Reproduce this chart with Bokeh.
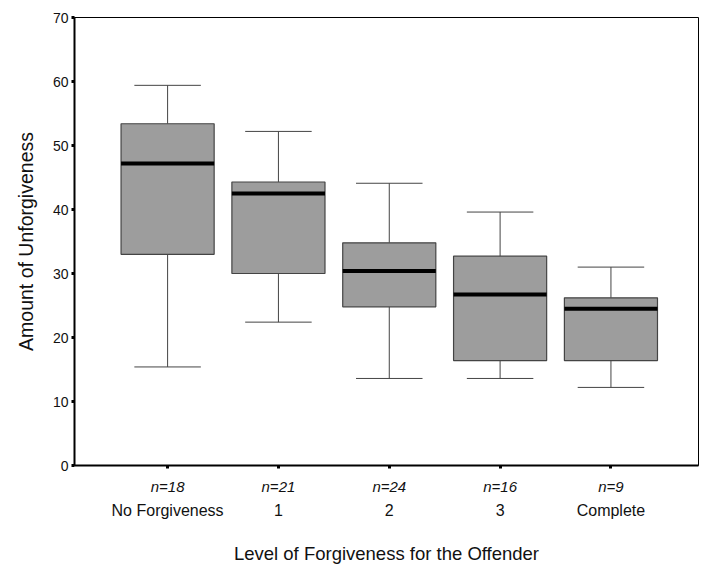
from bokeh.plotting import figure
from bokeh.models import Range1d, FixedTicker, LinearAxis
from bokeh.embed import file_html
from bokeh.resources import INLINE

# ---- data ----
categories = ["No Forgiveness", "1", "2", "3", "Complete"]
n_values = [18, 21, 24, 16, 9]
whisker_low = [15.4, 22.4, 13.6, 13.6, 12.2]
q1 = [33.0, 30.0, 24.8, 16.4, 16.4]
median = [47.2, 42.5, 30.4, 26.7, 24.5]
q3 = [53.4, 44.3, 34.8, 32.7, 26.2]
whisker_high = [59.4, 52.2, 44.1, 39.6, 31.0]
y_ticks = [0, 10, 20, 30, 40, 50, 60, 70]

xs = list(range(1, len(categories) + 1))
box_w = 0.84
cap_w = 0.6

FONT = "Liberation Sans"

p = figure(width=700, height=566, output_backend="svg", toolbar_location=None,
           x_range=Range1d(0.16, 5.79), y_range=Range1d(0, 70),
           min_border_left=74, min_border_right=2, min_border_top=17,
           min_border_bottom=99)
p.background_fill_color = "white"
p.border_fill_color = "white"
p.outline_line_color = "black"
p.outline_line_width = 1
p.xgrid.visible = False
p.ygrid.visible = False

# whiskers
p.segment(x0=xs, y0=whisker_low, x1=xs, y1=q1, line_color="#444444", line_width=1)
p.segment(x0=xs, y0=q3, x1=xs, y1=whisker_high, line_color="#444444", line_width=1)
# caps
p.segment(x0=[x - cap_w / 2 for x in xs], y0=whisker_low,
          x1=[x + cap_w / 2 for x in xs], y1=whisker_low, line_color="#444444", line_width=1)
p.segment(x0=[x - cap_w / 2 for x in xs], y0=whisker_high,
          x1=[x + cap_w / 2 for x in xs], y1=whisker_high, line_color="#444444", line_width=1)
# boxes
p.vbar(x=xs, width=box_w, bottom=q1, top=q3, fill_color="#9d9d9d",
       line_color="#444444", line_width=1.2)
# medians
p.segment(x0=[x - box_w / 2 for x in xs], y0=median,
          x1=[x + box_w / 2 for x in xs], y1=median, line_color="black", line_width=4)

# y axis
ya = p.yaxis[0]
ya.ticker = FixedTicker(ticks=y_ticks)
ya.minor_tick_line_color = None
ya.major_tick_in = 0
ya.major_tick_out = 3
ya.major_tick_line_width = 3
ya.axis_line_width = 2
ya.axis_line_color = "black"
ya.major_label_standoff = 3
ya.major_label_text_font = FONT
ya.major_label_text_font_size = "14px"
ya.major_label_text_color = "#111111"
ya.axis_label = "Amount of Unforgiveness"
ya.axis_label_text_font = FONT
ya.axis_label_text_font_size = "19.5px"
ya.axis_label_text_font_style = "normal"
ya.axis_label_text_color = "#111111"
ya.axis_label_standoff = 13

# x axis 1: n counts
xa = p.xaxis[0]
xa.ticker = FixedTicker(ticks=xs)
xa.major_label_overrides = {x: f"n={n}" for x, n in zip(xs, n_values)}
xa.minor_tick_line_color = None
xa.major_tick_in = 0
xa.major_tick_out = 3
xa.major_tick_line_width = 3
xa.axis_line_width = 2
xa.axis_line_color = "black"
xa.major_label_standoff = 9
xa.major_label_text_font = FONT
xa.major_label_text_font_size = "15px"
xa.major_label_text_font_style = "italic"
xa.major_label_text_color = "#111111"

# x axis 2: category names + title
xa2 = LinearAxis(ticker=FixedTicker(ticks=xs),
                 major_label_overrides={x: c for x, c in zip(xs, categories)})
xa2.axis_line_color = None
xa2.major_tick_line_color = None
xa2.minor_tick_line_color = None
xa2.major_tick_out = 0
xa2.major_tick_in = 0
xa2.major_label_standoff = 4
xa2.major_label_text_font = FONT
xa2.major_label_text_font_size = "16px"
xa2.major_label_text_color = "#111111"
xa2.axis_label = "Level of Forgiveness for the Offender"
xa2.axis_label_text_font = FONT
xa2.axis_label_text_font_size = "18.5px"
xa2.axis_label_text_font_style = "normal"
xa2.axis_label_text_color = "#111111"
xa2.axis_label_standoff = 21
p.add_layout(xa2, "below")

open("out.html", "w").write(file_html(p, INLINE))
